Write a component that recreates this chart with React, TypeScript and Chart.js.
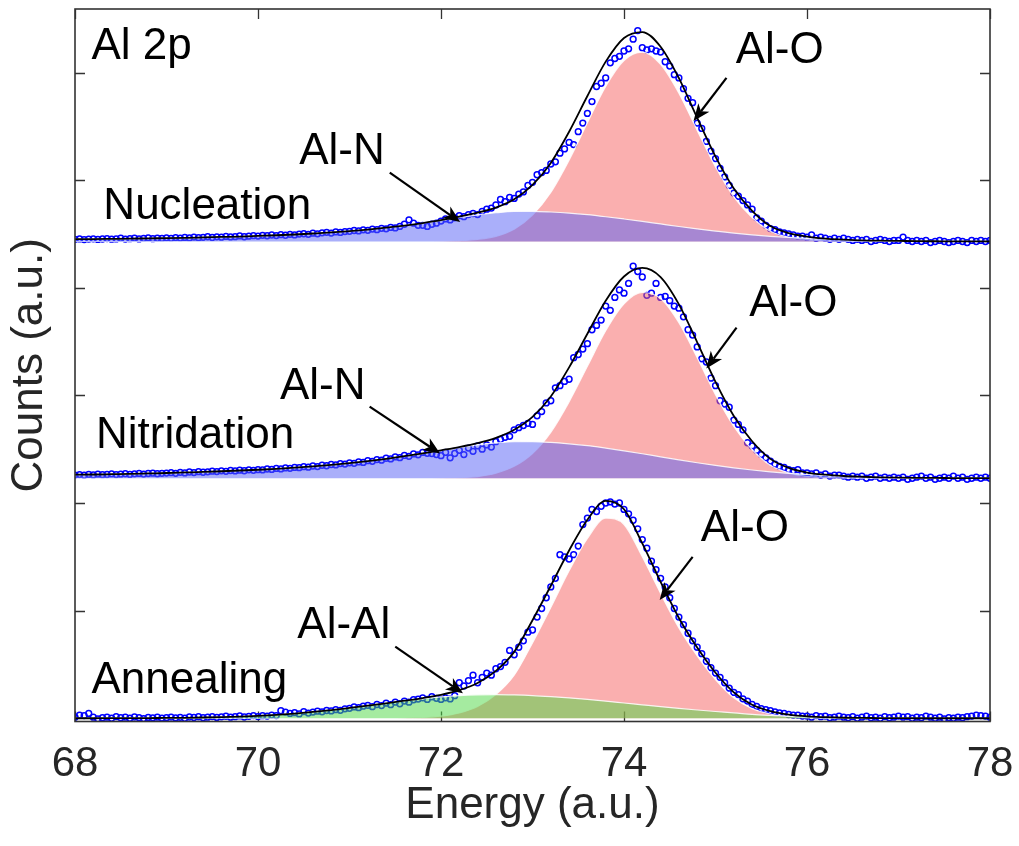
import React, { useEffect, useRef } from "react";
import { Chart, registerables } from "chart.js";

Chart.register(...registerables);

// ---------- energies (eV) ----------
const componentEnergy = [
  68.0, 68.2, 68.4, 68.6, 68.8, 69.0, 69.2, 69.4, 69.6, 69.8,
  70.0, 70.2, 70.4, 70.6, 70.8, 71.0, 71.2, 71.4, 71.6, 71.8,
  72.0, 72.2, 72.4, 72.6, 72.8, 73.0, 73.2, 73.4, 73.6, 73.8,
  74.0, 74.2, 74.4, 74.6, 74.8, 75.0, 75.2, 75.4, 75.6, 75.8,
  76.0, 76.2, 76.4, 76.6, 76.8, 77.0, 77.2, 77.4, 77.6, 77.8, 78.0,
];

const measuredEnergy = [
  68.0, 68.05, 68.1, 68.15, 68.2, 68.25, 68.3, 68.35, 68.4, 68.45, 68.5, 68.55, 68.6, 68.65, 68.7, 68.75, 68.8, 68.85, 68.9, 68.95,
  69.0, 69.05, 69.1, 69.15, 69.2, 69.25, 69.3, 69.35, 69.4, 69.45, 69.5, 69.55, 69.6, 69.65, 69.7, 69.75, 69.8, 69.85, 69.9, 69.95,
  70.0, 70.05, 70.1, 70.15, 70.2, 70.25, 70.3, 70.35, 70.4, 70.45, 70.5, 70.55, 70.6, 70.65, 70.7, 70.75, 70.8, 70.85, 70.9, 70.95,
  71.0, 71.05, 71.1, 71.15, 71.2, 71.25, 71.3, 71.35, 71.4, 71.45, 71.5, 71.55, 71.6, 71.65, 71.7, 71.75, 71.8, 71.85, 71.9, 71.95,
  72.0, 72.05, 72.1, 72.15, 72.2, 72.25, 72.3, 72.35, 72.4, 72.45, 72.5, 72.55, 72.6, 72.65, 72.7, 72.75, 72.8, 72.85, 72.9, 72.95,
  73.0, 73.05, 73.1, 73.15, 73.2, 73.25, 73.3, 73.35, 73.4, 73.45, 73.5, 73.55, 73.6, 73.65, 73.7, 73.75, 73.8, 73.85, 73.9, 73.95,
  74.0, 74.05, 74.1, 74.15, 74.2, 74.25, 74.3, 74.35, 74.4, 74.45, 74.5, 74.55, 74.6, 74.65, 74.7, 74.75, 74.8, 74.85, 74.9, 74.95,
  75.0, 75.05, 75.1, 75.15, 75.2, 75.25, 75.3, 75.35, 75.4, 75.45, 75.5, 75.55, 75.6, 75.65, 75.7, 75.75, 75.8, 75.85, 75.9, 75.95,
  76.0, 76.05, 76.1, 76.15, 76.2, 76.25, 76.3, 76.35, 76.4, 76.45, 76.5, 76.55, 76.6, 76.65, 76.7, 76.75, 76.8, 76.85, 76.9, 76.95,
  77.0, 77.05, 77.1, 77.15, 77.2, 77.25, 77.3, 77.35, 77.4, 77.45, 77.5, 77.55, 77.6, 77.65, 77.7, 77.75, 77.8, 77.85, 77.9, 77.95, 78.0,
];

// ---------- Nucleation (heights above its own baseline) ----------
const nucleationAlO = [
  0, 0, 0, 0, 0, 0, 0, 0, 0, 0,
  0, 0, 0, 0, 0, 0, 0, 0, 0, 0,
  0.002, 0.008, 0.02, 0.048, 0.113, 0.245, 0.456, 0.756, 1.103, 1.441,
  1.682, 1.759, 1.646, 1.378, 1.032, 0.692, 0.415, 0.223, 0.095, 0.04,
  0.018, 0.006, 0.002, 0, 0, 0, 0, 0, 0, 0, 0,
];
const nucleationAlN = [
  0.021, 0.022, 0.024, 0.026, 0.029, 0.031, 0.034, 0.038, 0.042, 0.046,
  0.052, 0.058, 0.065, 0.074, 0.084, 0.097, 0.111, 0.128, 0.148, 0.171,
  0.196, 0.223, 0.248, 0.267, 0.279, 0.28, 0.274, 0.264, 0.249, 0.23,
  0.209, 0.187, 0.163, 0.139, 0.117, 0.097, 0.078, 0.062, 0.048, 0.037,
  0.028, 0.02, 0.015, 0.01, 0.007, 0.005, 0.003, 0.002, 0.001, 0.001, 0.0,
];
const nucleationFit = [
  0.021, 0.022, 0.024, 0.026, 0.029, 0.031, 0.034, 0.038, 0.042, 0.046,
  0.052, 0.058, 0.065, 0.074, 0.084, 0.097, 0.111, 0.128, 0.148, 0.171,
  0.198, 0.231, 0.268, 0.315, 0.392, 0.525, 0.73, 1.02, 1.352, 1.671,
  1.891, 1.946, 1.809, 1.517, 1.149, 0.789, 0.493, 0.285, 0.143, 0.077,
  0.046, 0.026, 0.017, 0.01, 0.007, 0.005, 0.003, 0.002, 0.001, 0.001, 0.0,
];
const nucleationCounts = [
  0.02, 0.024, 0.018, 0.022, 0.025, 0.019, 0.023, 0.027, 0.021, 0.024, 0.03, 0.022, 0.026, 0.031, 0.024, 0.028, 0.033, 0.026, 0.03, 0.028,
  0.034, 0.029, 0.036, 0.032, 0.038, 0.033, 0.041, 0.035, 0.039, 0.044, 0.037, 0.043, 0.04, 0.047, 0.042, 0.045, 0.052, 0.044, 0.049, 0.054,
  0.05, 0.057, 0.053, 0.06, 0.055, 0.063, 0.058, 0.066, 0.061, 0.069, 0.072, 0.066, 0.077, 0.071, 0.08, 0.085, 0.078, 0.089, 0.084, 0.092,
  0.094, 0.102, 0.098, 0.108, 0.104, 0.115, 0.11, 0.122, 0.118, 0.131, 0.126, 0.14, 0.16, 0.2, 0.17, 0.15, 0.15, 0.14, 0.16, 0.17,
  0.19, 0.21, 0.2, 0.22, 0.24, 0.23, 0.25, 0.26, 0.25, 0.28, 0.3, 0.31, 0.34, 0.39, 0.37, 0.41, 0.4, 0.44, 0.46, 0.52,
  0.55, 0.62, 0.64, 0.66, 0.72, 0.74, 0.82, 0.86, 0.92, 0.9, 1.02, 1.1, 1.19, 1.3, 1.44, 1.47, 1.52, 1.66, 1.7, 1.72,
  1.77, 1.79, 1.88, 1.96, 1.8, 1.78, 1.79, 1.77, 1.76, 1.67, 1.63, 1.55, 1.52, 1.42, 1.33, 1.29, 1.1, 1.05, 0.93, 0.84,
  0.77, 0.68, 0.6, 0.52, 0.45, 0.42, 0.38, 0.34, 0.3, 0.22, 0.19, 0.15, 0.12, 0.11, 0.09, 0.08, 0.07, 0.06, 0.05, 0.05,
  0.04, 0.06, 0.03, 0.04, 0.03, 0.02, 0.03, 0.02, 0.03, 0.02, 0.01, 0.02, 0.01, 0.02, 0.0, 0.01, 0.02, 0.01, 0.0, 0.01,
  0.01, 0.04, 0.01, 0.0, 0.01, 0.0, 0.01, -0.01, 0.0, 0.01, 0.0, -0.01, 0.0, 0.01, 0.0, -0.01, 0.01, 0.0, 0.01, 0.0, 0.01,
];

// ---------- Nitridation ----------
const nitridationAlO = [
  0, 0, 0, 0, 0, 0, 0, 0, 0, 0,
  0, 0, 0, 0, 0, 0, 0, 0, 0, 0,
  0.002, 0.005, 0.016, 0.047, 0.111, 0.23, 0.427, 0.71, 1.04, 1.37,
  1.62, 1.726, 1.67, 1.445, 1.119, 0.776, 0.481, 0.267, 0.12, 0.05,
  0.018, 0.008, 0.003, 0.001, 0, 0, 0, 0, 0, 0, 0,
];
const nitridationAlN = [
  0.033, 0.035, 0.038, 0.041, 0.045, 0.049, 0.054, 0.059, 0.065, 0.072,
  0.079, 0.088, 0.099, 0.111, 0.125, 0.141, 0.16, 0.181, 0.205, 0.231,
  0.258, 0.285, 0.31, 0.328, 0.339, 0.34, 0.333, 0.32, 0.303, 0.28,
  0.255, 0.228, 0.199, 0.171, 0.144, 0.119, 0.097, 0.077, 0.06, 0.046,
  0.035, 0.025, 0.018, 0.013, 0.009, 0.006, 0.004, 0.003, 0.002, 0.001, 0.001,
];
const nitridationFit = [
  0.033, 0.035, 0.038, 0.041, 0.045, 0.049, 0.054, 0.059, 0.065, 0.072,
  0.079, 0.088, 0.099, 0.111, 0.125, 0.141, 0.16, 0.181, 0.205, 0.231,
  0.26, 0.29, 0.326, 0.375, 0.45, 0.57, 0.76, 1.03, 1.343, 1.65,
  1.875, 1.954, 1.869, 1.616, 1.263, 0.895, 0.578, 0.344, 0.18, 0.096,
  0.053, 0.033, 0.021, 0.014, 0.009, 0.006, 0.004, 0.003, 0.002, 0.001, 0.001,
];
const nitridationCounts = [
  0.03, 0.034, 0.028, 0.036, 0.031, 0.038, 0.033, 0.035, 0.04, 0.034, 0.038, 0.042, 0.036, 0.041, 0.045, 0.039, 0.044, 0.047, 0.042, 0.046,
  0.048, 0.052, 0.046, 0.055, 0.05, 0.058, 0.053, 0.061, 0.056, 0.06, 0.066, 0.062, 0.069, 0.064, 0.072, 0.068, 0.075, 0.07, 0.078, 0.074,
  0.08, 0.077, 0.086, 0.082, 0.091, 0.087, 0.096, 0.092, 0.101, 0.098, 0.108, 0.103, 0.114, 0.109, 0.121, 0.116, 0.128, 0.124, 0.136, 0.132,
  0.143, 0.139, 0.152, 0.147, 0.163, 0.157, 0.174, 0.168, 0.186, 0.18, 0.198, 0.191, 0.212, 0.204, 0.226, 0.218, 0.24, 0.232, 0.23, 0.22,
  0.21, 0.24, 0.19, 0.23, 0.26, 0.22, 0.28, 0.25, 0.3, 0.27, 0.31, 0.29, 0.34, 0.36, 0.38, 0.39, 0.45, 0.47, 0.49, 0.51,
  0.5, 0.58, 0.62, 0.7, 0.72, 0.84, 0.86, 0.9, 0.92, 1.12, 1.15, 1.2, 1.25, 1.38, 1.42, 1.47, 1.6, 1.56, 1.68, 1.75,
  1.72, 1.81, 1.97, 1.92, 1.87, 1.7, 1.72, 1.81, 1.68, 1.69, 1.65, 1.6, 1.58, 1.5, 1.38, 1.33, 1.22, 1.11, 1.08, 0.93,
  0.86, 0.72, 0.69, 0.66, 0.54, 0.5, 0.45, 0.33, 0.3, 0.26, 0.22, 0.19, 0.16, 0.13, 0.11, 0.1, 0.08, 0.07, 0.08, 0.05,
  0.05, 0.04, 0.05, 0.03, 0.04, 0.02, 0.03, 0.03, 0.02, 0.01, 0.02, 0.01, 0.02, 0.0, 0.01, 0.02, 0.0, 0.01, 0.0, 0.01,
  0.0, 0.01, -0.01, 0.0, 0.01, 0.02, 0.0, 0.01, -0.01, 0.0, 0.01, 0.0, 0.02, 0.0, 0.01, -0.01, 0.0, 0.01, 0.0, 0.01, 0.0,
];

// ---------- Annealing ----------
const annealingAlO = [
  0, 0, 0, 0, 0, 0, 0, 0, 0, 0,
  0, 0, 0, 0, 0, 0, 0, 0, 0.002, 0.007,
  0.02, 0.05, 0.11, 0.22, 0.4, 0.7, 1.03, 1.37, 1.67, 1.86,
  1.8, 1.5, 1.16, 0.84, 0.58, 0.36, 0.19, 0.09, 0.04, 0.015,
  0.005, 0.002, 0, 0, 0, 0, 0, 0, 0, 0, 0,
];
const annealingAlAl = [
  0.0, 0.0, 0.001, 0.001, 0.002, 0.003, 0.004, 0.007, 0.011, 0.016,
  0.023, 0.032, 0.044, 0.059, 0.076, 0.096, 0.117, 0.139, 0.161, 0.181,
  0.198, 0.211, 0.218, 0.22, 0.217, 0.211, 0.201, 0.189, 0.175, 0.159,
  0.142, 0.125, 0.108, 0.092, 0.077, 0.063, 0.051, 0.036, 0.026, 0.018,
  0.012, 0.008, 0.005, 0.003, 0.002, 0.001, 0, 0, 0, 0, 0,
];
const annealingFit = [
  0.0, 0.0, 0.001, 0.001, 0.002, 0.003, 0.004, 0.007, 0.011, 0.016,
  0.023, 0.032, 0.044, 0.059, 0.076, 0.096, 0.117, 0.139, 0.163, 0.188,
  0.218, 0.261, 0.328, 0.44, 0.617, 0.911, 1.231, 1.559, 1.845, 2.019,
  1.942, 1.625, 1.268, 0.932, 0.657, 0.423, 0.241, 0.126, 0.066, 0.033,
  0.017, 0.01, 0.005, 0.003, 0.002, 0.001, 0, 0, 0, 0, 0,
];
const annealingCounts = [
  0.01, 0.03, 0.025, 0.045, 0.01, -0.005, 0.005, 0.01, 0.0, 0.015, 0.005, 0.01, 0.0, 0.012, 0.006, -0.003, 0.008, 0.004, 0.01, 0.002,
  0.006, 0.011, 0.003, 0.009, 0.0, 0.012, 0.007, 0.014, 0.005, 0.01, 0.016, 0.008, 0.013, 0.019, 0.01, 0.015, 0.022, 0.012, 0.018, 0.025,
  0.016, 0.024, 0.02, 0.03, 0.025, 0.07, 0.058, 0.045, 0.052, 0.04, 0.062, 0.048, 0.058, 0.066, 0.06, 0.072, 0.068, 0.08, 0.074, 0.088,
  0.092, 0.105, 0.098, 0.112, 0.12, 0.108, 0.128, 0.118, 0.14, 0.126, 0.15, 0.135, 0.16, 0.15, 0.172, 0.178, 0.19, 0.175, 0.2, 0.185,
  0.175, 0.19, 0.18, 0.21, 0.33, 0.3, 0.35, 0.4, 0.33, 0.38, 0.42, 0.4, 0.46, 0.48, 0.52, 0.63, 0.59, 0.66, 0.72, 0.8,
  0.82, 0.94, 1.02, 1.12, 1.22, 1.3, 1.52, 1.5, 1.48, 1.52, 1.6, 1.8, 1.86, 1.94, 1.92, 1.97, 2.0, 2.01, 1.99, 2.0,
  1.94, 1.9, 1.84, 1.76, 1.66, 1.58, 1.46, 1.38, 1.3, 1.22, 1.12, 1.02, 0.94, 0.87, 0.79, 0.72, 0.66, 0.6, 0.53, 0.47,
  0.42, 0.38, 0.33, 0.28, 0.24, 0.22, 0.18, 0.16, 0.13, 0.11, 0.09, 0.08, 0.07, 0.06, 0.05, 0.045, 0.035, 0.03, 0.03, 0.02,
  0.02, 0.01, 0.025, 0.015, 0.02, 0.005, 0.01, 0.02, 0.01, 0.005, 0.015, 0.0, 0.01, 0.02, 0.005, 0.01, 0.0, 0.015, 0.005, 0.01,
  0.02, 0.01, 0.015, 0.0, 0.01, 0.005, 0.02, 0.01, 0.0, 0.01, -0.005, 0.005, 0.0, 0.01, 0.005, 0.015, 0.02, 0.03, 0.025, 0.02, 0.01,
];

// vertical offsets of the stacked spectra (counts units)
const nucleationOffset = 4.43;
const nitridationOffset = 2.23;
const annealingOffset = 0;

const xTickValues = [68, 70, 72, 74, 76, 78];
const yTickValues = [1, 2, 3, 4, 5, 6];

const textLabels = [
  { text: "Al 2p", x: 68.18, y: 6.24 },
  { text: "Al-O", x: 75.22, y: 6.2 },
  { text: "Al-N", x: 70.45, y: 5.26 },
  { text: "Nucleation", x: 68.31, y: 4.75 },
  { text: "Al-O", x: 75.37, y: 3.85 },
  { text: "Al-N", x: 70.24, y: 3.08 },
  { text: "Nitridation", x: 68.23, y: 2.62 },
  { text: "Al-O", x: 74.84, y: 1.76 },
  { text: "Al-Al", x: 70.43, y: 0.86 },
  { text: "Annealing", x: 68.18, y: 0.35 },
];

const arrowLines = [
  { x1: 71.44, y1: 5.07, x2: 72.21, y2: 4.61 },
  { x1: 75.12, y1: 5.95, x2: 74.76, y2: 5.55 },
  { x1: 71.22, y1: 2.895, x2: 71.99, y2: 2.46 },
  { x1: 75.23, y1: 3.63, x2: 74.9, y2: 3.25 },
  { x1: 71.5, y1: 0.665, x2: 72.24, y2: 0.232 },
  { x1: 74.75, y1: 1.5, x2: 74.39, y2: 1.1 },
];

const FONT = "'Liberation Sans', Arial, Helvetica, sans-serif";

function toPoints(xs: number[], ys: number[], offset: number) {
  const n = Math.min(xs.length, ys.length);
  const out: { x: number; y: number }[] = [];
  for (let i = 0; i < n; i++) out.push({ x: xs[i], y: ys[i] + offset });
  return out;
}

function componentSet(ys: number[], offset: number, color: string, order: number) {
  return {
    type: "line" as const,
    data: toPoints(componentEnergy, ys, offset),
    borderColor: "rgba(255,255,255,0.85)",
    borderWidth: 1.2,
    backgroundColor: color,
    fill: { value: offset },
    pointRadius: 0,
    cubicInterpolationMode: "monotone" as const,
    order,
  };
}

function fitSet(ys: number[], offset: number) {
  return {
    type: "line" as const,
    data: toPoints(componentEnergy, ys, offset),
    borderColor: "#000000",
    borderWidth: 1.8,
    fill: false,
    pointRadius: 0,
    cubicInterpolationMode: "monotone" as const,
    order: 1,
  };
}

function countsSet(ys: number[], offset: number) {
  return {
    type: "line" as const,
    data: toPoints(measuredEnergy, ys, offset),
    showLine: false,
    pointRadius: 2.9,
    pointBorderWidth: 1.5,
    pointBorderColor: "#0000ff",
    pointBackgroundColor: "rgba(0,0,0,0)",
    fill: false,
    order: 5,
  };
}

const PINK = "rgba(245,95,95,0.5)";
const BLUE = "rgba(85,95,245,0.5)";
const GREEN = "rgba(75,215,65,0.5)";

function drawArrow(ctx: CanvasRenderingContext2D, x1: number, y1: number, x2: number, y2: number) {
  const dx = x2 - x1;
  const dy = y2 - y1;
  const len = Math.hypot(dx, dy);
  const ux = dx / len;
  const uy = dy / len;
  const nx = -uy;
  const ny = ux;
  const L = 17;
  const W = 7;
  const notch = 0.72 * L;
  ctx.beginPath();
  ctx.moveTo(x1, y1);
  ctx.lineTo(x2 - ux * notch, y2 - uy * notch);
  ctx.stroke();
  ctx.beginPath();
  ctx.moveTo(x2, y2);
  ctx.lineTo(x2 - ux * L + nx * W, y2 - uy * L + ny * W);
  ctx.lineTo(x2 - ux * notch, y2 - uy * notch);
  ctx.lineTo(x2 - ux * L - nx * W, y2 - uy * L - ny * W);
  ctx.closePath();
  ctx.fill();
}

const framePlugin = {
  id: "xpsFrame",
  beforeDatasetsDraw(chart: any) {
    const { ctx, chartArea: a, scales } = chart;
    const xs = scales.x;
    const ys = scales.y;
    ctx.save();
    ctx.strokeStyle = "#333333";
    ctx.lineWidth = 1.3;
    ctx.beginPath();
    xTickValues.forEach((v) => {
      const px = Math.round(xs.getPixelForValue(v)) + 0.5;
      ctx.moveTo(px, a.bottom);
      ctx.lineTo(px, a.bottom - 10);
      ctx.moveTo(px, a.top);
      ctx.lineTo(px, a.top + 10);
    });
    yTickValues.forEach((v) => {
      const py = Math.round(ys.getPixelForValue(v)) + 0.5;
      ctx.moveTo(a.left, py);
      ctx.lineTo(a.left + 10, py);
      ctx.moveTo(a.right, py);
      ctx.lineTo(a.right - 10, py);
    });
    ctx.stroke();
    ctx.restore();
  },
  afterDatasetsDraw(chart: any) {
    const { ctx, chartArea: a, scales } = chart;
    const xs = scales.x;
    const ys = scales.y;
    ctx.save();
    ctx.strokeStyle = "#333333";
    ctx.lineWidth = 1.6;
    ctx.strokeRect(a.left, a.top, a.right - a.left, a.bottom - a.top);

    ctx.fillStyle = "#000000";
    ctx.font = `44px ${FONT}`;
    ctx.textAlign = "left";
    ctx.textBaseline = "middle";
    textLabels.forEach((t) => {
      ctx.fillText(t.text, xs.getPixelForValue(t.x), ys.getPixelForValue(t.y));
    });

    ctx.strokeStyle = "#000000";
    ctx.fillStyle = "#000000";
    ctx.lineWidth = 2.2;
    arrowLines.forEach((r) => {
      drawArrow(
        ctx,
        xs.getPixelForValue(r.x1),
        ys.getPixelForValue(r.y1),
        xs.getPixelForValue(r.x2),
        ys.getPixelForValue(r.y2)
      );
    });
    ctx.restore();
  },
};

export default function App() {
  const canvasRef = useRef<HTMLCanvasElement | null>(null);

  useEffect(() => {
    if (!canvasRef.current) return;
    const datasets: any[] = [
      countsSet(nucleationCounts, nucleationOffset),
      countsSet(nitridationCounts, nitridationOffset),
      countsSet(annealingCounts, annealingOffset),
      componentSet(nucleationAlO, nucleationOffset, PINK, 4),
      componentSet(nitridationAlO, nitridationOffset, PINK, 4),
      componentSet(annealingAlO, annealingOffset, PINK, 4),
      componentSet(nucleationAlN, nucleationOffset, BLUE, 3),
      componentSet(nitridationAlN, nitridationOffset, BLUE, 3),
      componentSet(annealingAlAl, annealingOffset, GREEN, 3),
      fitSet(nucleationFit, nucleationOffset),
      fitSet(nitridationFit, nitridationOffset),
      fitSet(annealingFit, annealingOffset),
    ];

    const chart = new Chart(canvasRef.current, {
      type: "line",
      data: { datasets },
      options: {
        animation: false,
        responsive: true,
        maintainAspectRatio: false,
        events: [],
        layout: { padding: { top: 9, right: 29, left: 0, bottom: 0 } },
        plugins: {
          legend: { display: false },
          tooltip: { enabled: false },
        },
        scales: {
          x: {
            type: "linear",
            min: 68,
            max: 78,
            ticks: {
              stepSize: 2,
              autoSkip: false,
              maxRotation: 0,
              padding: 18,
              color: "#262626",
              font: { family: FONT, size: 42 },
            },
            grid: { display: false, drawTicks: false },
            border: { display: false },
            title: {
              display: true,
              text: "Energy (a.u.)",
              color: "#262626",
              font: { family: FONT, size: 44, lineHeight: 1 },
              padding: { top: 0, bottom: 18 },
            },
            afterFit: (s: any) => {
              s.height = 124.5;
              s.paddingLeft = 0;
              s.paddingRight = 0;
            },
          },
          y: {
            type: "linear",
            min: -0.03,
            max: 6.59,
            ticks: { display: false },
            grid: { display: false, drawTicks: false },
            border: { display: false },
            title: {
              display: true,
              text: "Counts (a.u.)",
              color: "#262626",
              font: { family: FONT, size: 44, lineHeight: 1 },
              padding: { top: 8, bottom: 0 },
            },
            afterFit: (s: any) => {
              s.width = 75;
              s.paddingTop = 0;
              s.paddingBottom = 0;
            },
          },
        },
      } as any,
      plugins: [framePlugin],
    });

    return () => chart.destroy();
  }, []);

  return (
    <div
      style={{
        position: "fixed",
        left: 0,
        top: 0,
        width: 1019,
        height: 846,
        background: "#ffffff",
      }}
    >
      <canvas ref={canvasRef} />
    </div>
  );
}
